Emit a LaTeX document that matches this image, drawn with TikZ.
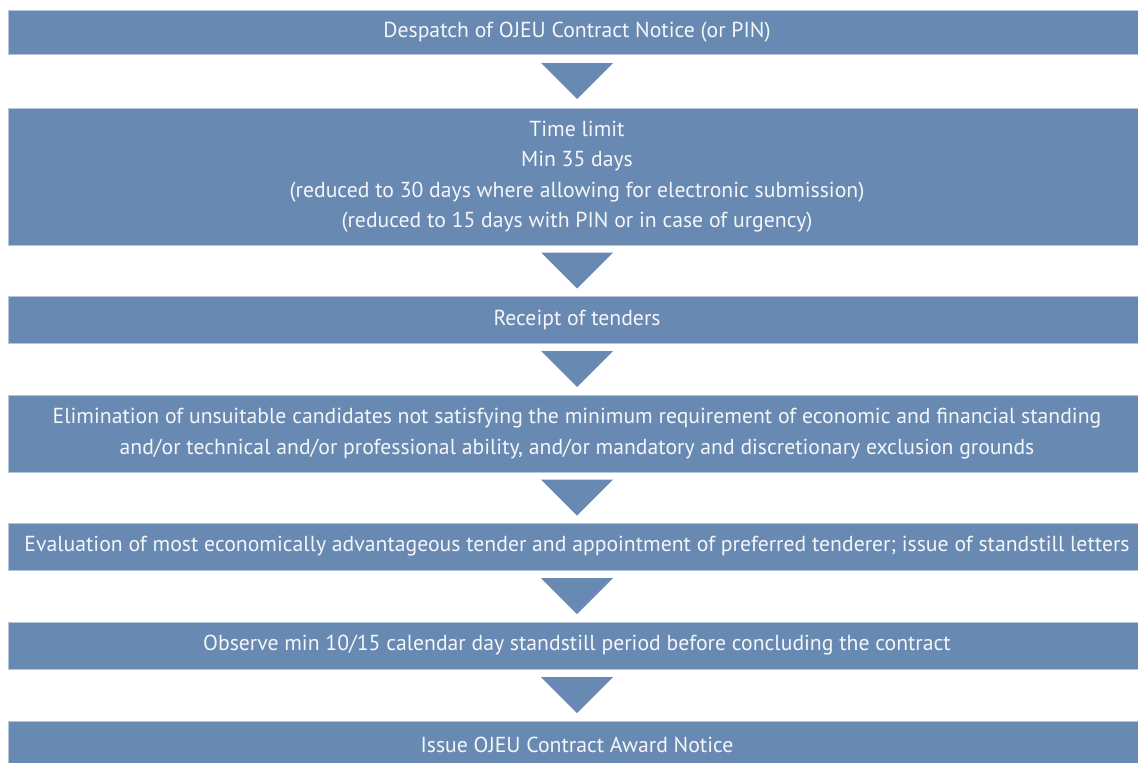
\documentclass[tikz,border=0pt]{standalone}
\usepackage{fontspec}
\setmainfont{PT Sans}
\usetikzlibrary{calc}
\definecolor{boxblue}{HTML}{6889B1}
\definecolor{boxedge}{HTML}{B4C6DB}
\definecolor{boxtext}{HTML}{F4F6F9}
\tikzset{
  stagebox/.style={fill=boxblue, draw=boxedge, line width=0.8pt, minimum width=1138pt,
    inner sep=0pt, outer sep=0pt, align=center, text=boxtext,
    font=\fontsize{21.7}{30.5}\selectfont},
  arrowtri/.style={fill=boxblue, draw=none}
}
\begin{document}
\begin{tikzpicture}[x=1pt,y=-1pt]
\useasboundingbox (0,0) rectangle (1138,763);
\node[stagebox, minimum height=44pt] (b1) at (577,32) {Despatch of OJEU Contract Notice (or PIN)};
\node[stagebox, minimum height=137pt] (b2) at (577,176.5) {Time limit\\Min 35 days\\(reduced to 30 days where allowing for electronic submission)\\(reduced to 15 days with PIN or in case of urgency)};
\node[stagebox, minimum height=47pt] (b3) at (577,319.5) {Receipt of tenders};
\node[stagebox, minimum height=77pt] (b4) at (577,433.5) {Elimination of unsuitable candidates not satisfying the minimum requirement of economic and financial standing\\and/or technical and/or professional ability, and/or mandatory and discretionary exclusion grounds};
\node[stagebox, minimum height=47pt] (b5) at (577,546.5) {Evaluation of most economically advantageous tender and appointment of preferred tenderer; issue of standstill letters};
\node[stagebox, minimum height=47pt] (b6) at (577,645.5) {Observe min 10/15 calendar day standstill period before concluding the contract};
\node[stagebox, minimum height=47pt] (b7) at (577,744.5) {Issue OJEU Contract Award Notice};
\foreach \a/\b in {b1/b2,b2/b3,b3/b4,b4/b5,b5/b6,b6/b7}{
  \coordinate (t\a) at ($(\a.south)!0.5!(\b.north)$);
  \fill[arrowtri] (t\a) ++(-36,-18) -- ++(72,0) -- ++(-36,36) -- cycle;
}
\end{tikzpicture}
\end{document}
